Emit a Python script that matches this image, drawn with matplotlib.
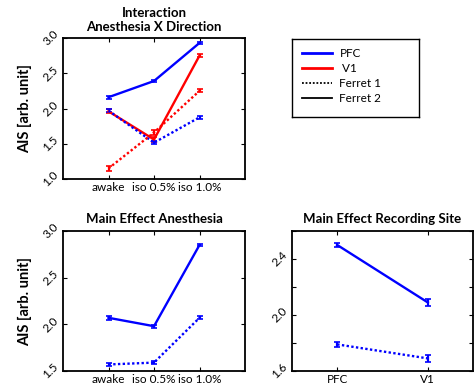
"""
Interaction / main effects of anesthesia and recording site on AIS
"""

from matplotlib import pyplot as plt
from matplotlib.lines import Line2D
import numpy as np

plt.rcParams['font.family'] = ['Lato', 'DejaVu Sans']

# Categories
anesthesia_levels = ['awake', 'iso 0.5%', 'iso 1.0%']
sites = ['PFC', 'V1']

# Interaction Anesthesia X Direction
inter_pfc_f2 = [2.16, 2.39, 2.93]
inter_pfc_f2_err = [0.02, 0.02, 0.02]
inter_v1_f2 = [1.96, 1.56, 2.75]
inter_v1_f2_err = [0.03, 0.03, 0.02]
inter_pfc_f1 = [1.97, 1.515, 1.875]
inter_pfc_f1_err = [0.02, 0.02, 0.02]
inter_v1_f1 = [1.15, 1.66, 2.25]
inter_v1_f1_err = [0.03, 0.04, 0.02]

# Main effect anesthesia
anest_f2 = [2.07, 1.98, 2.85]
anest_f2_err = [0.02, 0.015, 0.015]
anest_f1 = [1.57, 1.59, 2.07]
anest_f1_err = [0.02, 0.015, 0.015]

# Main effect recording site
site_f2 = [2.50, 2.09]
site_f2_err = [0.015, 0.025]
site_f1 = [1.79, 1.69]
site_f1_err = [0.015, 0.025]

BLUE = (0, 0, 1)
RED = (1, 0, 0)
DOT = (0, (1, 1))
LW = 1.7

W, H = 475, 387
fig = plt.figure(figsize=(W/100, H/100), dpi=100)


def px_axes(left, top, right, bottom):
    return fig.add_axes([left/W, 1 - bottom/H, (right-left)/W, (bottom-top)/H])


def style(ax, yticks, ylabels):
    for s in ax.spines.values():
        s.set_linewidth(1.3)
    ax.tick_params(direction='in', length=3, width=0.8, top=True, right=True,
                   labelsize=8.5, pad=2)
    ax.set_yticks(yticks)
    ax.set_yticklabels(ylabels, rotation=45, ha='right', va='center',
                       fontsize=8.5)


def draw(ax, x, y, err, color, ls):
    ax.errorbar(x, y, yerr=err, color=color, linestyle=ls, linewidth=LW,
                elinewidth=1.6, capsize=2, capthick=1.2)


# Top-left: interaction
ax1 = px_axes(63, 38, 245, 179)
x3 = np.arange(1, 4)
draw(ax1, x3, inter_pfc_f2, inter_pfc_f2_err, BLUE, '-')
draw(ax1, x3, inter_v1_f2, inter_v1_f2_err, RED, '-')
draw(ax1, x3, inter_pfc_f1, inter_pfc_f1_err, BLUE, DOT)
draw(ax1, x3, inter_v1_f1, inter_v1_f1_err, RED, DOT)
ax1.set_xlim(0, 4)
ax1.set_ylim(1, 3)
ax1.set_xticks(x3)
ax1.set_xticklabels(anesthesia_levels)
style(ax1, [1.0, 1.5, 2.0, 2.5, 3.0], ['1.0', '1.5', '2.0', '2.5', '3.0'])
ax1.set_title('Interaction\nAnesthesia X Direction', fontsize=9.5,
              fontweight='bold', pad=5, linespacing=1.25)
ax1.set_ylabel('AIS [arb. unit]', fontsize=10.5, fontweight='bold', labelpad=6)

# Legend box
axl = px_axes(292, 39, 419, 117)
axl.set_xticks([])
axl.set_yticks([])
for s in axl.spines.values():
    s.set_linewidth(1.0)
handles = [Line2D([], [], color=BLUE, lw=2),
           Line2D([], [], color=RED, lw=2),
           Line2D([], [], color='black', lw=1.3, linestyle=(0, (1, 1))),
           Line2D([], [], color='black', lw=1.3)]
axl.legend(handles, ['PFC', ' V1', 'Ferret 1', 'Ferret 2'], loc='upper left',
           frameon=False, fontsize=8.5, handlelength=2.6, handletextpad=0.6,
           labelspacing=0.35, borderaxespad=0.2, bbox_to_anchor=(0.02, 0.98))

# Bottom-left: main effect anesthesia
ax2 = px_axes(63, 231, 245, 371)
draw(ax2, x3, anest_f2, anest_f2_err, BLUE, '-')
draw(ax2, x3, anest_f1, anest_f1_err, BLUE, DOT)
ax2.set_xlim(0, 4)
ax2.set_ylim(1.5, 3)
ax2.set_xticks(x3)
ax2.set_xticklabels(anesthesia_levels)
style(ax2, [1.5, 2.0, 2.5, 3.0], ['1.5', '2.0', '2.5', '3.0'])
ax2.set_title('Main Effect Anesthesia', fontsize=9.5, fontweight='bold', pad=6)
ax2.set_ylabel('AIS [arb. unit]', fontsize=10.5, fontweight='bold', labelpad=6)

# Bottom-right: main effect recording site
ax3 = px_axes(292, 231, 473, 371)
x2 = np.arange(1, 3)
draw(ax3, x2, site_f2, site_f2_err, BLUE, '-')
draw(ax3, x2, site_f1, site_f1_err, BLUE, DOT)
ax3.set_xlim(0.5, 2.5)
ax3.set_ylim(1.6, 2.6)
ax3.set_xticks(x2)
ax3.set_xticklabels(sites)
style(ax3, [1.6, 1.8, 2.0, 2.2, 2.4, 2.6], ['1.6', '', '2.0', '', '2.4', ''])
ax3.set_title('Main Effect Recording Site', fontsize=9.5, fontweight='bold', pad=6)

fig.savefig('out.png', dpi=100)
